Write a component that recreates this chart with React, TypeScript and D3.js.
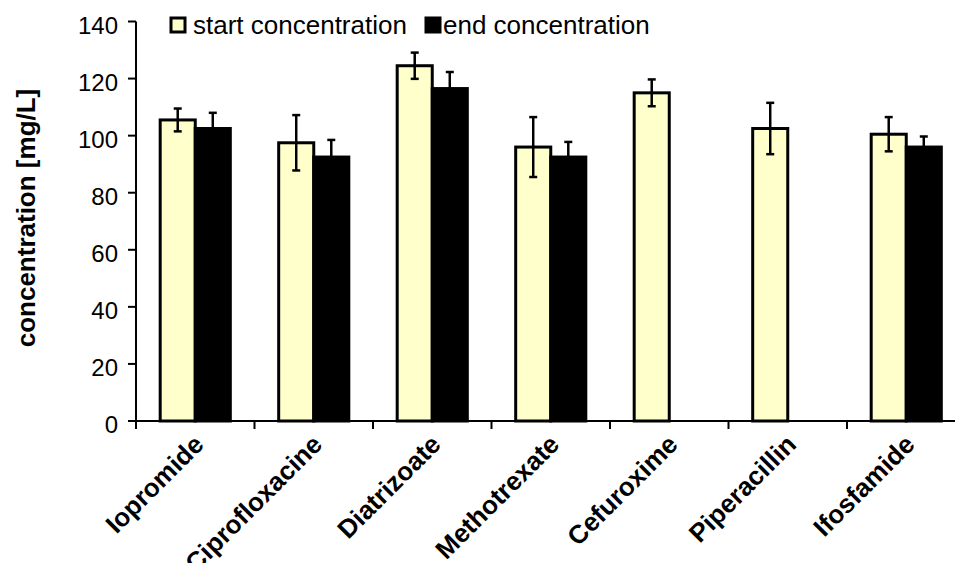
import * as React from 'react';
import * as d3 from 'd3';

const categories = ['Iopromide', 'Ciprofloxacine', 'Diatrizoate', 'Methotrexate', 'Cefuroxime', 'Piperacillin', 'Ifosfamide'];
const startValues = [105.5, 97.5, 124.5, 96, 115, 102.5, 100.5];
const startErrors = [4, 9.7, 4.6, 10.5, 4.7, 9, 6];
const endValues: (number | null)[] = [102.5, 92.5, 116.5, 92.5, null, null, 96];
const endErrors: (number | null)[] = [5.5, 6, 5.8, 5.3, null, null, 3.7];
const yTicks = [0, 20, 40, 60, 80, 100, 120, 140];
const seriesNames = ['start concentration', 'end concentration'];

const FONT = '"Liberation Sans", Arial, sans-serif';
const START_FILL = '#ffffcc';

const ErrorBar = ({ x, lo, hi }) => {
	const cap = 4;
	return (
		<g stroke='#000' strokeWidth={2.5}>
			<line x1={x} x2={x} y1={lo} y2={hi} />
			<line x1={x - cap} x2={x + cap} y1={lo} y2={lo} />
			<line x1={x - cap} x2={x + cap} y1={hi} y2={hi} />
		</g>
	);
};

export default function App() {
	const width = 955;
	const height = 563;

	const x = d3.scaleBand<string>().domain(categories).range([136, 965.5]).paddingInner(0).paddingOuter(0);
	const xSub = d3.scaleBand<string>().domain(['start', 'end']).range([0, x.bandwidth()]).paddingInner(0).paddingOuter(0.69);
	const y = d3.scaleLinear().domain([0, 140]).range([421, 21.5]);

	const bars = categories.map((c, i) => ({
		c,
		start: startValues[i],
		startErr: startErrors[i],
		end: endValues[i],
		endErr: endErrors[i],
	}));
	const bw = xSub.bandwidth();

	return (
		<svg width={width} height={height} style={{ position: 'absolute', left: 0, top: 0, background: '#fff' }} fontFamily={FONT}>
			{/* bars */}
			{bars.map(b => {
				const x0 = x(b.c)!;
				return (
					<g key={b.c}>
						<rect x={x0 + xSub('start')!} y={y(b.start)} width={bw} height={y(0) - y(b.start)} fill={START_FILL} stroke='#000' strokeWidth={3} />
						{b.end != null ? (
							<rect x={x0 + xSub('end')!} y={y(b.end)} width={bw} height={y(0) - y(b.end)} fill='#000' stroke='#000' strokeWidth={3} />
						) : null}
					</g>
				);
			})}
			{/* error bars */}
			{bars.map(b => {
				const x0 = x(b.c)!;
				return (
					<g key={b.c + '-err'}>
						<ErrorBar x={x0 + xSub('start')! + bw / 2} lo={y(b.start - b.startErr)} hi={y(b.start + b.startErr)} />
						{b.end != null ? (
							<ErrorBar x={x0 + xSub('end')! + bw / 2} lo={y(b.end - b.endErr!)} hi={y(b.end + b.endErr!)} />
						) : null}
					</g>
				);
			})}
			{/* y axis */}
			<line x1={136} x2={136} y1={y(140)} y2={y(0)} stroke='#000' strokeWidth={2} />
			{yTicks.map(t => (
				<g key={t}>
					<line x1={128} x2={136} y1={y(t)} y2={y(t)} stroke='#000' strokeWidth={2} />
					<text x={118} y={y(t) + 12} textAnchor='end' fontSize={24}>
						{t}
					</text>
				</g>
			))}
			{/* x axis */}
			<line x1={136} x2={width} y1={y(0)} y2={y(0)} stroke='#000' strokeWidth={2} />
			{categories.map(c => (
				<line key={c} x1={x(c)!} x2={x(c)!} y1={y(0)} y2={y(0) + 8} stroke='#000' strokeWidth={2} />
			))}
			{categories.map(c => {
				const cx = x(c)! + x.bandwidth() / 2 + 10;
				return (
					<text key={c + '-lbl'} transform={`translate(${cx},${446}) rotate(-45)`} textAnchor='end' fontSize={26} fontWeight='bold'>
						{c}
					</text>
				);
			})}
			{/* y label */}
			<text transform={`translate(35,218) rotate(-90)`} textAnchor='middle' fontSize={26} fontWeight='bold'>
				concentration [mg/L]
			</text>
			{/* legend */}
			<rect x={171} y={18} width={14} height={14} fill={START_FILL} stroke='#000' strokeWidth={3} />
			<text x={193} y={34} fontSize={26}>
				{seriesNames[0]}
			</text>
			<rect x={426} y={18} width={14} height={14} fill='#000' stroke='#000' strokeWidth={3} />
			<text x={443} y={34} fontSize={26}>
				{seriesNames[1]}
			</text>
		</svg>
	);
}
